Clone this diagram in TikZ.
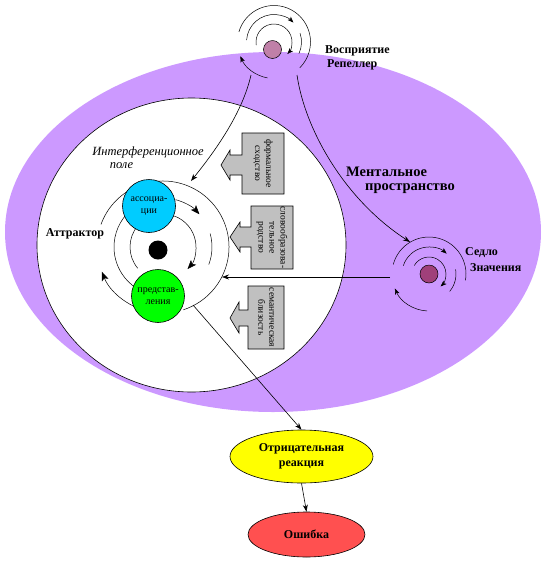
\documentclass[tikz,border=0pt]{standalone}
\usepackage{fontspec}
\setmainfont{Liberation Serif}
\usetikzlibrary{arrows.meta,shapes.geometric}
\definecolor{purp}{HTML}{CC99FF}
\definecolor{boxgray}{HTML}{C0C0C0}
\definecolor{cyanc}{HTML}{00CCFF}
\definecolor{greenc}{HTML}{00FF00}
\definecolor{yel}{HTML}{FFFF00}
\definecolor{redc}{HTML}{FF5050}
\definecolor{repdot}{HTML}{C080A8}
\definecolor{saddot}{HTML}{A0407A}
\tikzset{
  conn/.style={-{Stealth[length=7pt,width=5pt]}, line width=0.6pt},
  ring/.style={line width=0.5pt},
  ringarr/.style={line width=0.5pt,-{Stealth[length=9pt,width=7pt,inset=2pt]}},
  smallarr/.style={line width=0.5pt,-{Stealth[length=6pt,width=4.5pt,inset=1.5pt]}},
  lbl/.style={font=\fontsize{12}{13}\selectfont\bfseries, inner sep=0pt},
  biglbl/.style={font=\fontsize{14.5}{15}\selectfont\bfseries, inner sep=0pt},
  itlbl/.style={font=\fontsize{12.5}{13}\selectfont\itshape, inner sep=0pt},
  bubble/.style={circle, draw, line width=0.6pt, minimum size=53pt, inner sep=0pt, align=center, font=\fontsize{10}{11.5}\selectfont},
  dotnode/.style={circle, draw, line width=0.5pt, minimum size=18pt, inner sep=0pt},
  callout/.style={fill=boxgray, draw, line width=0.6pt},
  boxtext/.style={rotate=-90, align=center, inner sep=0pt, font=\fontsize{9.5}{11}\selectfont},
  oval/.style={ellipse, draw, line width=0.6pt, inner sep=0pt, align=center, font=\fontsize{12}{15}\selectfont\bfseries}
}
\begin{document}
\begin{tikzpicture}[x=1pt,y=-1pt]
\useasboundingbox (0,0) rectangle (551,566);
% mental space
\fill[purp] (273,232) ellipse [x radius=268, y radius=180];
\draw[fill=white, line width=0.6pt] (191.5,245) ellipse [x radius=154.5, y radius=147];

% ---- repeller ----
\draw[ring] (274,42) ++(-164:36.5) arc[start angle=-164,end angle=45,radius=36.5];
\draw[smallarr] (274,42) ++(100:36.5) arc[start angle=100,end angle=157,radius=36.5];
\draw[smallarr] (274,42) ++(-176:27.5) arc[start angle=-176,end angle=-45,radius=27.5];
\draw[ring] (274,42) ++(-19:27.5) arc[start angle=-19,end angle=25,radius=27.5];
\draw[smallarr] (274,42) ++(-190:18) arc[start angle=-190,end angle=42,radius=18];
\node[dotnode, fill=repdot] (rep) at (272.5,49.5) {};

% ---- saddle ----
\draw[ring] (429,274) ++(-165:37) arc[start angle=-165,end angle=10,radius=37];
\draw[smallarr] (429,274) ++(93:37) arc[start angle=93,end angle=157,radius=37];
\draw[smallarr] (429,274) ++(-162:27) arc[start angle=-162,end angle=-49,radius=27];
\draw[ring] (429,274) ++(-10:27) arc[start angle=-10,end angle=40,radius=27];
\draw[smallarr] (429,274) ++(-150:17) arc[start angle=-150,end angle=47,radius=17];
\node[dotnode, fill=saddot] (sad) at (429,274) {};

% ---- attractor rings ----
\draw[ring] (163,247) ++(-160:66) arc[start angle=-160,end angle=72,radius=66];
\draw[ringarr] (163,247) ++(105:66) arc[start angle=105,end angle=158,radius=66];
\draw[ring] (163,247) ++(125:49) arc[start angle=125,end angle=235,radius=49];
\draw[ringarr] (163,247) ++(-75:49) arc[start angle=-75,end angle=-42,radius=49];
\draw[ring] (163,247) ++(-16:49) arc[start angle=-16,end angle=21,radius=49];
\draw[ringarr] (163,247) ++(-70:33) arc[start angle=-70,end angle=42,radius=33];
\draw[ring] (163,247) ++(140:33) arc[start angle=140,end angle=220,radius=33];
\node[circle, fill=black, minimum size=19pt, inner sep=0pt] (core) at (158,250) {};
\node[bubble, fill=cyanc] (assoc) at (149,206) {ассоциа-\\ции};
\node[bubble, fill=greenc] (repr) at (158,296) {представ-\\ления};

% ---- callouts ----
\draw[callout] (242,133) -- (284,133) -- (284,194) -- (242,194) -- (242,175) -- (230,175) -- (230,180) -- (221,165) -- (230,150) -- (230,155) -- (242,155) -- cycle;
\node[boxtext] (b1) at (263,163.5) {формальное\\сходство};
\draw[callout] (251,206) -- (293,206) -- (293,269) -- (251,269) -- (251,247) -- (240,247) -- (240,252) -- (230,237) -- (240,222) -- (240,227) -- (251,227) -- cycle;
\node[boxtext] (b2) at (272,237.5) {словообразова-\\тельное\\родство};
\draw[callout] (248,286) -- (284,286) -- (284,349) -- (248,349) -- (248,326) -- (239,326) -- (239,333) -- (230,318) -- (239,302) -- (239,310) -- (248,310) -- cycle;
\node[boxtext] (b3) at (266,317.5) {семантическая\\близость};

% ---- labels ----
\node[lbl, anchor=west] (l1) at (325,51) {Восприятие};
\node[lbl, anchor=west] (l2) at (327,65) {Репеллер};
\node[biglbl, anchor=west] (l3) at (346,172) {Ментальное};
\node[biglbl, anchor=west] (l4) at (365,189) {пространство};
\node[lbl, anchor=west] (l5) at (465,253) {Седло};
\node[lbl, anchor=west] (l6) at (470,268) {Значения};
\node[lbl] (l7) at (75,234) {Аттрактор};
\node[itlbl] (l8) at (148,152) {Интерференционное};
\node[itlbl] (l9) at (121.5,166) {поле};

% ---- bottom ovals ----
\node[oval, fill=yel, minimum width=143pt, minimum height=53pt] (neg) at (301.5,456.5) {Отрицательная\\реакция};
\node[oval, fill=redc, minimum width=117pt, minimum height=45pt] (err) at (306.5,534.5) {Ошибка};

% ---- connectors ----
\coordinate (repA) at (251,75);
\coordinate (repB) at (297,75);
\coordinate (attTop) at (191,181);
\coordinate (sadTop) at (410,242);
\coordinate (sadL) at (390,277);
\coordinate (attR) at (222,277);
\coordinate (reprOut) at (193,305);
\draw[conn] (repA) .. controls (243,110) and (220,145) .. (attTop);
\draw[conn] (repB) .. controls (305,130) and (345,200) .. (sadTop);
\draw[conn] (sadL) -- (attR);
\draw[conn] (reprOut) -- (neg.north);
\draw[conn] (neg.south) -- (err.north);
\end{tikzpicture}
\end{document}
